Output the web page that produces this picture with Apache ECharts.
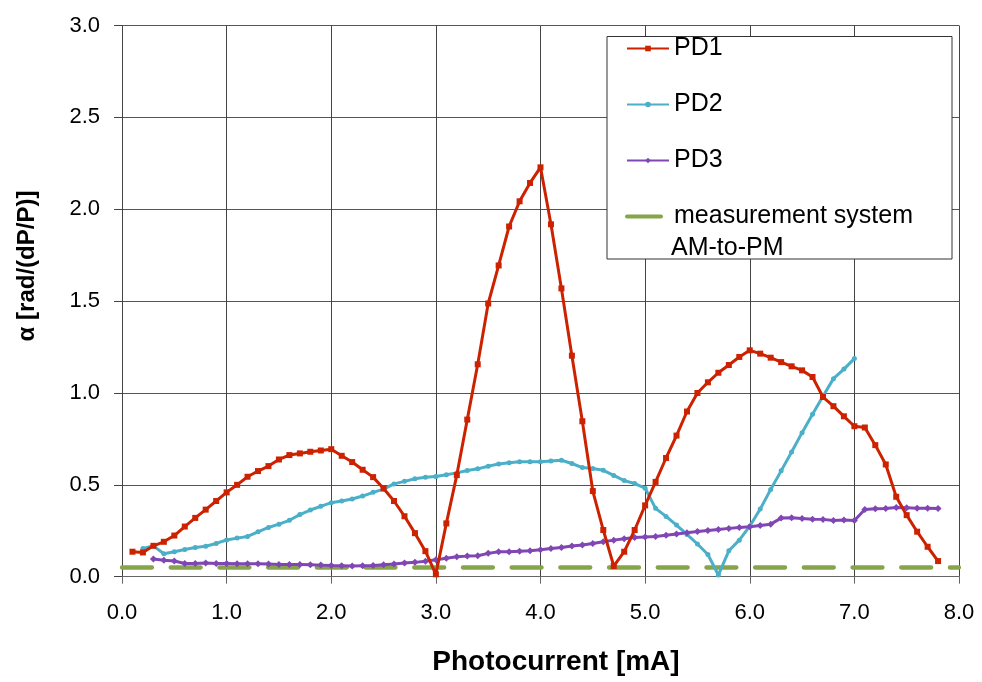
<!DOCTYPE html>
<html>
<head>
<meta charset="utf-8">
<title>Phase-amplitude conversion vs photocurrent</title>
<script src="https://cdn.jsdelivr.net/npm/echarts@6/dist/echarts.min.js"></script>
<style>
  html, body { margin: 0; padding: 0; background: #fff; }
  #chart { width: 982px; height: 682px; }
</style>
</head>
<body>
<div id="chart"></div>
<script>
// Photocurrent (mA) and alpha (rad/(dP/P)) for each photodiode
const pd1Current = [0.1,0.2,0.3,0.4,0.5,0.6,0.7,0.8,0.9,1.0,1.1,1.2,1.3,1.4,1.5,1.6,1.7,1.8,1.9,2.0,
  2.1,2.2,2.3,2.4,2.5,2.6,2.7,2.8,2.9,3.0,3.1,3.2,3.3,3.4,3.5,3.6,3.7,3.8,3.9,4.0,
  4.1,4.2,4.3,4.4,4.5,4.6,4.7,4.8,4.9,5.0,5.1,5.2,5.3,5.4,5.5,5.6,5.7,5.8,5.9,6.0,
  6.1,6.2,6.3,6.4,6.5,6.6,6.7,6.8,6.9,7.0,7.1,7.2,7.3,7.4,7.5,7.6,7.7,7.8];
const pd1Alpha = [0.136,0.132,0.168,0.190,0.224,0.273,0.320,0.365,0.412,0.459,0.500,0.544,0.575,0.602,0.638,0.662,0.671,0.680,0.687,0.694,
  0.658,0.624,0.582,0.542,0.480,0.412,0.329,0.237,0.139,0.013,0.290,0.553,0.855,1.156,1.487,1.694,1.906,2.043,2.143,2.228,
  1.918,1.569,1.203,0.846,0.466,0.254,0.058,0.136,0.254,0.388,0.516,0.646,0.768,0.899,1.000,1.058,1.110,1.152,1.196,1.232,
  1.214,1.192,1.168,1.145,1.123,1.087,0.978,0.928,0.873,0.819,0.812,0.716,0.611,0.435,0.335,0.245,0.163,0.085];

const pd2Current = [0.2,0.3,0.4,0.5,0.6,0.7,0.8,0.9,1.0,1.1,1.2,1.3,1.4,1.5,1.6,1.7,1.8,1.9,2.0,
  2.1,2.2,2.3,2.4,2.5,2.6,2.7,2.8,2.9,3.0,3.1,3.2,3.3,3.4,3.5,3.6,3.7,3.8,3.9,4.0,
  4.1,4.2,4.3,4.4,4.5,4.6,4.7,4.8,4.9,5.0,5.1,5.2,5.3,5.4,5.5,5.6,5.7,5.8,5.9,6.0,
  6.1,6.2,6.3,6.4,6.5,6.6,6.7,6.8,6.9,7.0];
const pd2Alpha = [0.154,0.168,0.125,0.136,0.148,0.159,0.166,0.181,0.200,0.210,0.219,0.244,0.268,0.286,0.307,0.338,0.363,0.383,0.403,
  0.412,0.423,0.439,0.459,0.477,0.505,0.519,0.533,0.541,0.545,0.555,0.565,0.578,0.587,0.601,0.614,0.620,0.625,0.625,0.625,
  0.630,0.634,0.616,0.594,0.589,0.579,0.551,0.523,0.507,0.482,0.372,0.328,0.281,0.230,0.178,0.121,0.009,0.141,0.199,0.275,
  0.368,0.475,0.576,0.679,0.784,0.884,0.982,1.078,1.130,1.187];

const pd3Current = [0.3,0.4,0.5,0.6,0.7,0.8,0.9,1.0,1.1,1.2,1.3,1.4,1.5,1.6,1.7,1.8,1.9,2.0,
  2.1,2.2,2.3,2.4,2.5,2.6,2.7,2.8,2.9,3.0,3.1,3.2,3.3,3.4,3.5,3.6,3.7,3.8,3.9,4.0,
  4.1,4.2,4.3,4.4,4.5,4.6,4.7,4.8,4.9,5.0,5.1,5.2,5.3,5.4,5.5,5.6,5.7,5.8,5.9,6.0,
  6.1,6.2,6.3,6.4,6.5,6.6,6.7,6.8,6.9,7.0,7.1,7.2,7.3,7.4,7.5,7.6,7.7,7.8];
const pd3Alpha = [0.096,0.089,0.085,0.072,0.072,0.074,0.072,0.072,0.071,0.071,0.071,0.069,0.067,0.067,0.067,0.065,0.063,0.061,
  0.060,0.058,0.060,0.061,0.065,0.069,0.074,0.078,0.084,0.092,0.100,0.108,0.112,0.114,0.127,0.136,0.136,0.139,0.141,0.147,
  0.154,0.159,0.167,0.172,0.181,0.190,0.199,0.207,0.213,0.216,0.219,0.225,0.232,0.239,0.246,0.252,0.257,0.263,0.268,0.272,
  0.279,0.286,0.319,0.321,0.317,0.313,0.312,0.306,0.308,0.306,0.366,0.370,0.371,0.377,0.375,0.373,0.373,0.371];

// Measurement-system AM-to-PM floor
const systemCurrent = [0, 8];
const systemAlpha = [0.05, 0.05];

const seriesNames = ['PD1', 'PD2', 'PD3', 'measurement system'];
const xTitle = 'Photocurrent [mA]';
const yTitle = 'α [rad/(dP/P)]';

const FONT = "'Liberation Sans', Arial, sans-serif";
const pairs = (xs, ys) => xs.map((x, i) => [x, ys[i]]);

const chart = echarts.init(document.getElementById('chart'), null, { renderer: 'canvas' });

chart.setOption({
  animation: false,
  backgroundColor: '#ffffff',
  grid: { left: 122, right: 23, top: 25.5, bottom: 105.3, containLabel: false },
  xAxis: {
    type: 'value', min: 0, max: 8, interval: 1,
    axisLine: { show: true, onZero: false, lineStyle: { color: '#666', width: 1 } },
    axisTick: { show: true, length: 7, lineStyle: { color: '#666' } },
    axisLabel: { margin: 25, color: '#000', fontSize: 22, fontFamily: FONT, formatter: v => v.toFixed(1) },
    splitLine: { show: true, lineStyle: { color: '#444', width: 1 } }
  },
  yAxis: {
    type: 'value', min: 0, max: 3, interval: 0.5,
    axisLine: { show: true, onZero: false, lineStyle: { color: '#444', width: 1 } },
    axisTick: { show: true, length: 8, lineStyle: { color: '#444' } },
    axisLabel: { margin: 22, color: '#000', fontSize: 22, fontFamily: FONT, formatter: v => v.toFixed(1) },
    splitLine: { show: true, lineStyle: { color: '#555', width: 1 } }
  },
  legend: {
    orient: 'vertical', left: 625, top: 36, padding: 0,
    itemWidth: 42, itemHeight: 7, itemGap: 31,
    textStyle: { color: '#000', fontSize: 25, fontFamily: FONT },
    data: [
      seriesNames[0], seriesNames[1], seriesNames[2],
      { name: seriesNames[3], itemStyle: { opacity: 0 }, lineStyle: { type: [34, 20], cap: 'round', width: 4 } }
    ]
  },
  graphic: [
    { type: 'rect', z: 3, shape: { x: 607, y: 36.5, width: 345, height: 222.5 },
      style: { fill: '#fff', stroke: '#333', lineWidth: 1 } },
    { type: 'text', z: 5, x: 671, y: 248, style: { text: 'AM-to-PM', font: "25px " + FONT, fill: '#000', textAlign: 'left', textVerticalAlign: 'middle' } },
    { type: 'text', x: 556, y: 662, style: { text: xTitle, font: "bold 28px " + FONT, fill: '#000', textAlign: 'center', textVerticalAlign: 'middle' } },
    { type: 'text', x: 27, y: 266, rotation: Math.PI / 2, style: { text: yTitle, font: "bold 24px " + FONT, fill: '#000', textAlign: 'center', textVerticalAlign: 'middle' } }
  ],
  series: [
    {
      name: seriesNames[0], type: 'line', data: pairs(pd1Current, pd1Alpha),
      symbol: 'rect', symbolSize: 6, showAllSymbol: true,
      lineStyle: { color: '#cc2200', width: 3 }, itemStyle: { color: '#cc2200' }, z: 4
    },
    {
      name: seriesNames[1], type: 'line', data: pairs(pd2Current, pd2Alpha),
      symbol: 'circle', symbolSize: 5, showAllSymbol: true,
      lineStyle: { color: '#4bafc8', width: 3 }, itemStyle: { color: '#4bafc8' }, z: 3
    },
    {
      name: seriesNames[2], type: 'line', data: pairs(pd3Current, pd3Alpha),
      symbol: 'diamond', symbolSize: 7, showAllSymbol: true,
      lineStyle: { color: '#8046b4', width: 3 }, itemStyle: { color: '#8046b4' }, z: 3
    },
    {
      name: seriesNames[3], type: 'line', data: pairs(systemCurrent, systemAlpha),
      symbol: 'none',
      lineStyle: { color: '#86a44a', width: 4.3, type: [30, 18.7], cap: 'round' },
      itemStyle: { color: '#86a44a' }, z: 2
    }
  ]
});
</script>
</body>
</html>
